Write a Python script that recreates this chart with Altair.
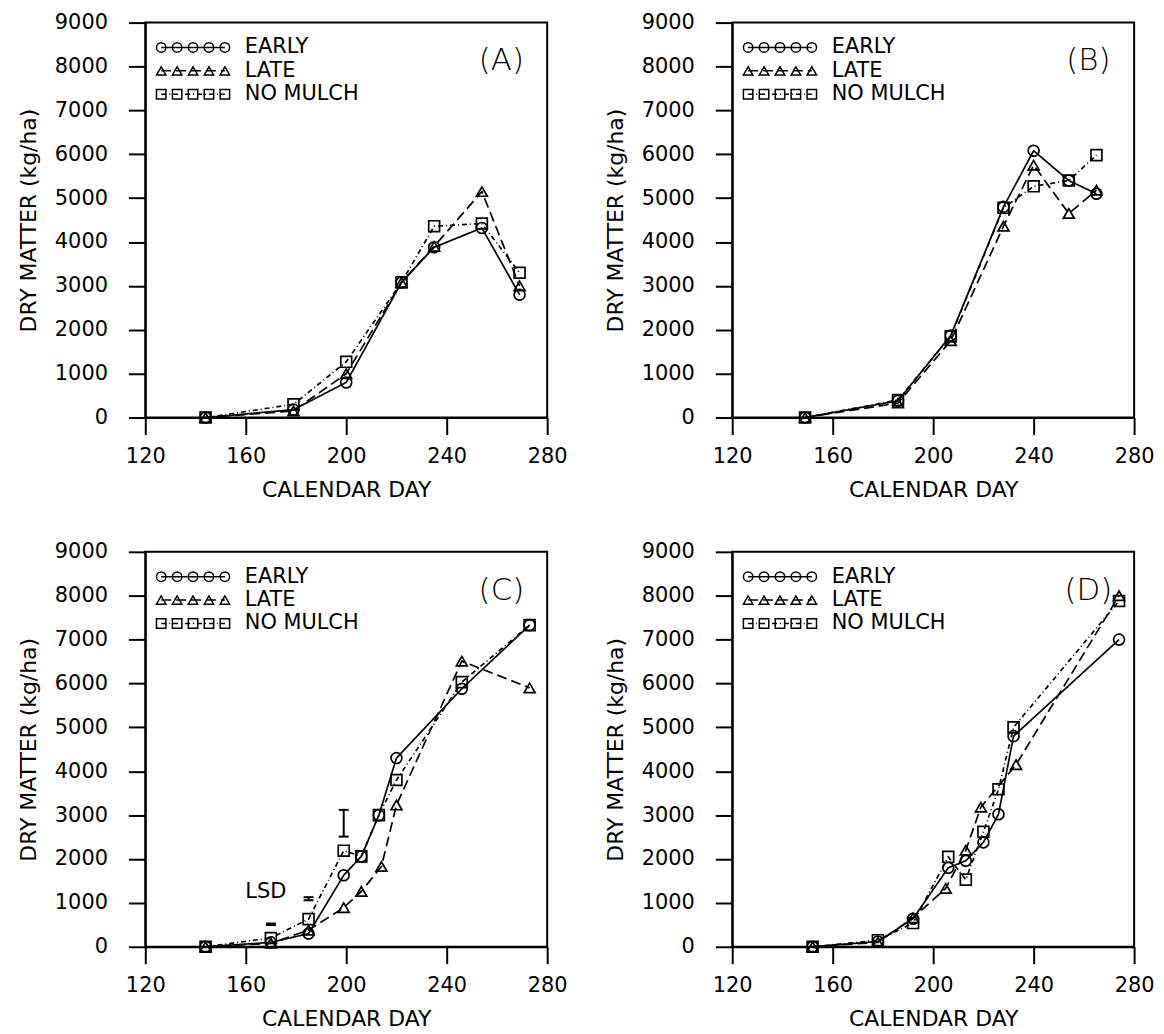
import altair as alt
import pandas as pd

# ---------------- data ----------------
SERIES = ["EARLY", "LATE", "NO  MULCH"]
PANEL_LABELS = ["(A)", "(B)", "(C)", "(D)"]
X_TITLE = "CALENDAR  DAY"
Y_TITLE = "DRY  MATTER  (kg/ha)"
X_TICKS = [120, 160, 200, 240, 280]
Y_TICKS = [0, 1000, 2000, 3000, 4000, 5000, 6000, 7000, 8000, 9000]

# Panel A
A_DAYS = [144, 179, 200, 222, 235, 254, 269]
A_EARLY = [0, 180, 800, 3080, 3880, 4320, 2800]
A_LATE = [0, 150, 1000, 3080, 3900, 5150, 3000]
A_NOMULCH = [0, 300, 1270, 3080, 4360, 4420, 3300]

# Panel B
B_DAYS = [149, 186, 207, 228, 240, 254, 265]
B_EARLY = [0, 380, 1870, 4800, 6080, 5400, 5100]
B_LATE = [0, 330, 1750, 4360, 5750, 4650, 5180]
B_NOMULCH = [0, 400, 1850, 4780, 5270, 5400, 5980]

# Panel C
C_DAYS = [144, 170, 185, 199, 206, 213, 220, 246, 273]
C_EARLY = [0, 100, 300, 1630, 2060, 3000, 4300, 5880, 7330]
C_LATE_DAYS = [144, 170, 185, 199, 206, 214, 220, 246, 273]
C_LATE = [0, 80, 380, 890, 1260, 1830, 3230, 6510, 5900]
C_NOMULCH = [0, 200, 630, 2190, 2060, 3000, 3800, 6030, 7330]
C_LSD_DAYS = [170, 185, 199]
C_LSD_LOW = [495, 1060, 2510]
C_LSD_HIGH = [530, 1130, 3120]
LSD_TEXT = "LSD"

# Panel D
D_DAYS = [152, 178, 192, 206, 213, 220, 226, 232, 274]
D_EARLY = [0, 120, 640, 1800, 1960, 2380, 3020, 4800, 7000]
D_LATE_DAYS = [152, 178, 192, 205, 213, 219, 233, 274]
D_LATE = [0, 100, 660, 1330, 2200, 3180, 4150, 8000]
D_NOMULCH = [0, 150, 540, 2050, 1530, 2620, 3590, 5000, 7880]

# ---------------- layout / style ----------------
W, H = 404, 397
XMIN, XMAX = 120, 280
YMIN, YMAX = 0, 9000
FONT = "DejaVu Sans"
SHAPES = ["circle", "triangle-up", "square"]
DASHES = [[1, 0], [10, 5], [5, 3, 1, 3]]


def px_to_x(px):
    return XMIN + px / W * (XMAX - XMIN)


def px_to_y(py):
    return YMAX - py / H * (YMAX - YMIN)


def panel(series_data, label, lsd=None):
    rows = []
    for name, (days, vals) in zip(SERIES, series_data):
        for d, v in zip(days, vals):
            rows.append({"day": d, "dm": v, "series": name})
    df = pd.DataFrame(rows)

    x = alt.X("day:Q",
              scale=alt.Scale(domain=[XMIN, XMAX], nice=False, zero=False),
              axis=alt.Axis(values=X_TICKS, title=X_TITLE, labelPadding=11,
                            titlePadding=13, format="d"))
    y = alt.Y("dm:Q",
              scale=alt.Scale(domain=[YMIN, YMAX], nice=False),
              axis=alt.Axis(values=Y_TICKS, title=Y_TITLE, labelPadding=21,
                            titlePadding=14, format="d"))
    dash = alt.StrokeDash("series:N", scale=alt.Scale(domain=SERIES, range=DASHES), legend=None)
    shape = alt.Shape("series:N", scale=alt.Scale(domain=SERIES, range=SHAPES), legend=None)

    lines = alt.Chart(df).mark_line(color="black", strokeWidth=1.7).encode(
        x=x, y=y, strokeDash=dash, detail="series:N")
    pts = alt.Chart(df).mark_point(color="black", filled=False, size=120, strokeWidth=1.7,
                                   opacity=1).encode(x=x, y=y, shape=shape)

    # in-plot legend (positions computed from the layout)
    sym_rows, line_rows, txt_rows = [], [], []
    for i, name in enumerate(SERIES):
        py = 25 + 23.5 * i
        for k in range(5):
            sym_rows.append({"day": px_to_x(16 + 16 * k), "dm": px_to_y(py), "series": name})
        for k in (0, 4):
            line_rows.append({"day": px_to_x(16 + 16 * k), "dm": px_to_y(py), "series": name})
        txt_rows.append({"day": px_to_x(100), "dm": px_to_y(py), "series": name})
    leg_sym = alt.Chart(pd.DataFrame(sym_rows)).mark_point(
        color="black", filled=False, size=90, strokeWidth=1.5, opacity=1).encode(x=x, y=y, shape=shape)
    leg_line = alt.Chart(pd.DataFrame(line_rows)).mark_line(color="black", strokeWidth=1.5).encode(
        x=x, y=y, strokeDash=dash, detail="series:N")
    leg_txt = alt.Chart(pd.DataFrame(txt_rows)).mark_text(
        align="left", baseline="middle", font=FONT, fontSize=21, color="black").encode(
        x=x, y=y, text="series:N")

    lab = alt.Chart(pd.DataFrame({"day": [px_to_x(358)], "dm": [px_to_y(39)], "t": [label]})).mark_text(
        align="center", baseline="middle", font=FONT, fontSize=31, fontWeight=300, color="black").encode(
        x=x, y=y, text="t:N")

    layers = [lines, pts, leg_line, leg_sym, leg_txt, lab]

    if lsd is not None:
        ldays, llow, lhigh = lsd
        ldf = pd.DataFrame({"day": ldays, "lo": llow, "hi": lhigh})
        bar = alt.Chart(ldf).mark_rule(color="black", strokeWidth=2).encode(
            x=x, y=alt.Y("lo:Q", scale=alt.Scale(domain=[YMIN, YMAX], nice=False)), y2="hi:Q")
        cap_rows = []
        for d, lo, hi in zip(ldays, llow, lhigh):
            cap_rows.append({"day": d, "dm": lo})
            cap_rows.append({"day": d, "dm": hi})
        caps = alt.Chart(pd.DataFrame(cap_rows)).mark_point(
            shape="stroke", size=100, color="black", strokeWidth=2, filled=False, opacity=1).encode(x=x, y=y)
        ltxt = alt.Chart(pd.DataFrame({"day": [ldays[0] - 2], "dm": [1250], "t": [LSD_TEXT]})).mark_text(
            align="center", baseline="middle", font=FONT, fontSize=21, color="black").encode(
            x=x, y=y, text="t:N")
        layers += [bar, caps, ltxt]

    return alt.layer(*layers).properties(width=W, height=H)


pA = panel([(A_DAYS, A_EARLY), (A_DAYS, A_LATE), (A_DAYS, A_NOMULCH)], PANEL_LABELS[0])
pB = panel([(B_DAYS, B_EARLY), (B_DAYS, B_LATE), (B_DAYS, B_NOMULCH)], PANEL_LABELS[1])
pC = panel([(C_DAYS, C_EARLY), (C_LATE_DAYS, C_LATE), (C_DAYS, C_NOMULCH)], PANEL_LABELS[2],
           lsd=(C_LSD_DAYS, C_LSD_LOW, C_LSD_HIGH))
pD = panel([(D_DAYS, D_EARLY), (D_LATE_DAYS, D_LATE), (D_DAYS, D_NOMULCH)], PANEL_LABELS[3])

chart = alt.vconcat(
    alt.hconcat(pA, pB, spacing=34),
    alt.hconcat(pC, pD, spacing=34),
    spacing=39,
).properties(
    padding={"left": 8, "top": 0, "right": 0, "bottom": 0},
    background="white",
).configure_view(
    stroke="black", strokeWidth=2
).configure_axis(
    domainColor="black", domainWidth=2, tickColor="black", tickWidth=2, tickSize=17,
    labelFont=FONT, labelFontSize=21, labelColor="black",
    titleFont=FONT, titleFontSize=22, titleFontWeight="normal", titleColor="black",
    grid=False, labelFlush=False
)

chart.save("out.html", embed_options={"renderer": "svg", "actions": False})
